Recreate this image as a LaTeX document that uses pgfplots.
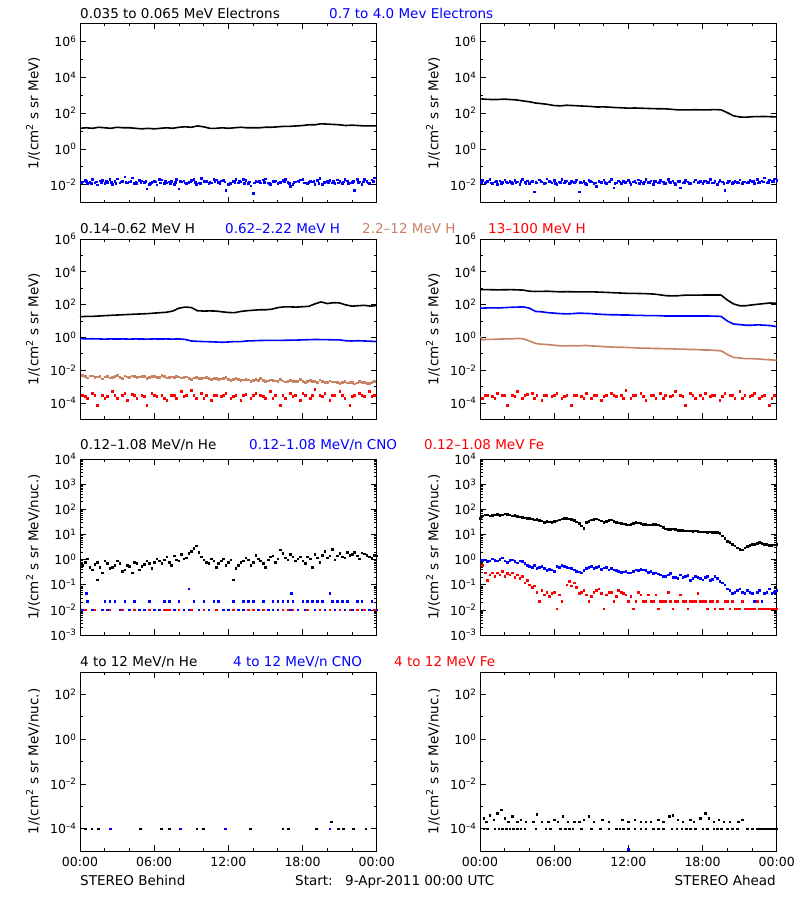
\documentclass[border=0pt]{standalone}
\usepackage{pgfplots}
\pgfplotsset{compat=1.18}
\usepackage{fontspec}
\setmainfont{DejaVu Sans}
\definecolor{iblue}{RGB}{0,0,255}
\definecolor{ibrown}{RGB}{200,130,100}
\definecolor{ired}{RGB}{255,0,0}
\newcommand{\titlefont}{\fontsize{13.5}{16}\selectfont}
\newcommand{\tickfont}{\fontsize{12.5}{15}\selectfont}
\newcommand{\Ts}[1]{10\textsuperscript{#1}}
\pgfplotsset{
  every axis/.append style={scale only axis, width=296.7pt, xmin=0, xmax=24,
    xtick={0,6,12,18,24}, minor xtick={2,4,8,10,14,16,20,22},
    tick align=inside, major tick length=6pt, minor tick length=3pt,
    axis line style={line width=0.7pt}, every tick/.style={black, line width=0.7pt},
    ticklabel style={font=\tickfont}, label style={font=\titlefont},
    ylabel style={at={(axis description cs:-0.158,0.5)}, anchor=center},
    anchor=south west},
  mydots/.style={only marks, mark=square*, mark size=0.8pt},
  myln/.style={no marks, line width=1.6pt, sharp plot},
}
\begin{document}
\begin{tikzpicture}
\path[fill=white] (0pt,0pt) rectangle (800pt,900pt);
\useasboundingbox (0pt,0pt) rectangle (800pt,900pt);

% ---------------- Row 1 ----------------
\begin{axis}[ymode=log, xticklabel=\empty, at={(80pt,697.3pt)}, height=179.4pt, ymin=1e-3, ymax=1e7,
  ytick={1e-2,1e0,1e2,1e4,1e6}, yticklabels={\Ts{–2},\Ts{0},\Ts{2},\Ts{4},\Ts{6}},
  minor ytick={1e-1,1e1,1e3,1e5},
  ylabel={1/(cm\textsuperscript{2} s sr MeV)}]
\addplot[myln, black] coordinates {(0,14)(0.5,15)(1,14)(1.5,16)(2,15)(2.5,14)(3,16)(3.5,15)(4,15)(4.5,14)(5,13)(5.5,14)(6,13)(6.5,14)(7,15)(7.5,14)(8,16)(8.5,17)(9,16)(9.5,19)(10,17)(10.5,14)(11,14)(11.5,15)(12,14)(12.5,15)(13,16)(13.5,15)(14,15)(14.5,15)(15,16)(15.5,16)(16,17)(16.5,18)(17,18)(17.5,19)(18,20)(18.5,22)(19,22)(19.5,25)(20,24)(20.5,23)(21,22)(21.5,20)(22,21)(22.5,20)(23,19)(23.5,19)(24,19)};
\addplot[mydots, iblue] coordinates {(0.2,0.015)(0.6,0.012)(1.0,0.02)(1.4,0.01)(1.8,0.018)(2.2,0.014)(2.6,0.011)(3.0,0.022)(3.4,0.016)(3.8,0.013)(4.2,0.025)(4.6,0.012)(5.0,0.017)(5.4,0.006)(5.8,0.014)(6.2,0.01)(6.6,0.019)(7.0,0.013)(7.4,0.016)(7.8,0.021)(8.2,0.015)(8.6,0.012)(9.0,0.018)(9.4,0.011)(9.8,0.024)(10.2,0.016)(10.6,0.013)(11.0,0.019)(11.4,0.017)(11.8,0.005)(12.2,0.012)(12.6,0.02)(13.0,0.015)(13.4,0.018)(13.8,0.009)(14.2,0.016)(14.6,0.013)(15.0,0.022)(15.4,0.011)(15.8,0.017)(16.2,0.014)(16.6,0.02)(17.0,0.008)(17.4,0.015)(17.8,0.019)(18.2,0.013)(18.6,0.016)(19.0,0.011)(19.4,0.023)(19.8,0.014)(20.2,0.018)(20.6,0.012)(21.0,0.016)(21.4,0.021)(21.8,0.013)(22.2,0.005)(22.6,0.015)(23.0,0.02)(23.4,0.012)(23.8,0.025)
(0.4,0.018)(0.8,0.014)(1.2,0.013)(1.6,0.017)(2.0,0.012)(2.4,0.02)(2.8,0.016)(3.2,0.013)(3.6,0.028)(4.0,0.015)(4.4,0.012)(4.8,0.018)(5.2,0.014)(5.6,0.011)(6.0,0.016)(6.4,0.02)(6.8,0.012)(7.2,0.015)(7.6,0.011)(8.0,0.006)(8.4,0.017)(8.8,0.014)(9.2,0.02)(9.6,0.013)(10.0,0.016)(10.4,0.012)(10.8,0.021)(11.2,0.014)(11.6,0.018)(12.0,0.011)(12.4,0.016)(12.8,0.013)(13.2,0.02)(13.6,0.012)(14.0,0.0035)(14.4,0.015)(14.8,0.019)(15.2,0.013)(15.6,0.016)(16.0,0.012)(16.4,0.018)(16.8,0.014)(17.2,0.011)(17.6,0.017)(18.0,0.021)(18.4,0.012)(18.8,0.015)(19.2,0.018)(19.6,0.011)(20.0,0.016)(20.4,0.013)(20.8,0.019)(21.2,0.012)(21.6,0.017)(22.0,0.014)(22.4,0.02)(22.8,0.011)(23.2,0.016)(23.6,0.019)
(0.1,0.013)(0.5,0.016)(0.9,0.012)(1.3,0.015)(1.7,0.013)(2.1,0.016)(2.5,0.014)(2.9,0.012)(3.3,0.015)(3.7,0.014)(4.1,0.016)(4.5,0.014)(4.9,0.013)(5.3,0.016)(5.7,0.012)(6.1,0.015)(6.5,0.013)(6.9,0.016)(7.3,0.012)(7.7,0.014)(8.1,0.016)(8.5,0.013)(8.9,0.015)(9.3,0.014)(9.7,0.012)(10.1,0.015)(10.5,0.014)(10.9,0.016)(11.3,0.012)(11.7,0.015)(12.1,0.013)(12.5,0.014)(12.9,0.016)(13.3,0.012)(13.7,0.015)(14.1,0.013)(14.5,0.016)(14.9,0.014)(15.3,0.012)(15.7,0.015)(16.1,0.013)(16.5,0.016)(16.9,0.012)(17.3,0.014)(17.7,0.015)(18.1,0.013)(18.5,0.014)(18.9,0.016)(19.3,0.012)(19.7,0.015)(20.1,0.014)(20.5,0.016)(20.9,0.013)(21.3,0.015)(21.7,0.012)(22.1,0.016)(22.5,0.014)(22.9,0.015)(23.3,0.013)(23.7,0.016)};
\end{axis}

\begin{axis}[ymode=log, xticklabel=\empty, at={(480pt,697.3pt)}, height=179.4pt, ymin=1e-3, ymax=1e7,
  ytick={1e-2,1e0,1e2,1e4,1e6}, yticklabels={\Ts{–2},\Ts{0},\Ts{2},\Ts{4},\Ts{6}},
  minor ytick={1e-1,1e1,1e3,1e5},
  ylabel={1/(cm\textsuperscript{2} s sr MeV)}]
\addplot[myln, black] coordinates {(0,620)(0.5,580)(1,560)(1.5,570)(2,590)(2.5,560)(3,530)(3.5,470)(4,420)(4.5,360)(5,330)(5.5,300)(6,260)(6.5,250)(7,270)(7.5,260)(8,250)(8.5,240)(9,230)(9.5,215)(10,220)(10.5,210)(11,200)(11.5,195)(12,185)(12.5,190)(13,185)(13.5,180)(14,175)(14.5,172)(15,170)(15.5,160)(16,150)(16.5,148)(17,150)(17.5,152)(18,148)(18.5,150)(19,155)(19.5,150)(20,105)(20.5,70)(21,60)(21.5,58)(22,62)(22.5,63)(23,64)(23.5,62)(24,60)};
\addplot[mydots, iblue] coordinates {(0.2,0.018)(0.4,0.013)(0.6,0.016)(0.8,0.02)(1.0,0.012)(1.2,0.015)(1.4,0.011)(1.6,0.017)(1.8,0.014)(2.0,0.019)(2.2,0.013)(2.4,0.016)(2.6,0.012)(2.8,0.018)(3.0,0.015)(3.2,0.011)(3.4,0.021)(3.6,0.014)(3.8,0.017)(4.0,0.012)(4.2,0.016)(4.4,0.004)(4.6,0.013)(4.8,0.019)(5.0,0.015)(5.2,0.012)(5.4,0.022)(5.6,0.016)(5.8,0.013)(6.0,0.018)(6.2,0.011)(6.4,0.015)(6.6,0.02)(6.8,0.013)(7.0,0.017)(7.2,0.012)(7.4,0.016)(7.6,0.014)(7.8,0.019)(8.0,0.004)(8.2,0.013)(8.4,0.016)(8.6,0.011)(8.8,0.018)(9.0,0.015)(9.2,0.012)(9.4,0.008)(9.6,0.016)(9.8,0.014)(10.0,0.019)(10.2,0.012)(10.4,0.015)(10.6,0.02)(10.8,0.007)(11.0,0.013)(11.2,0.017)(11.4,0.012)(11.6,0.016)(11.8,0.014)(12.0,0.018)(12.2,0.011)(12.4,0.015)(12.6,0.013)(12.8,0.019)(13.0,0.016)(13.2,0.012)(13.4,0.021)(13.6,0.014)(13.8,0.017)(14.0,0.011)(14.2,0.016)(14.4,0.013)(14.6,0.018)(14.8,0.015)(15.0,0.012)(15.2,0.02)(15.4,0.014)(15.6,0.017)(15.8,0.011)(16.0,0.016)(16.2,0.007)(16.4,0.013)(16.6,0.018)(16.8,0.015)(17.0,0.012)(17.4,0.019)(17.6,0.014)(17.8,0.016)(18.0,0.012)(18.2,0.017)(18.4,0.014)(18.6,0.02)(18.8,0.013)(19.0,0.016)(19.2,0.011)(19.4,0.018)(19.6,0.015)(19.8,0.005)(20.0,0.013)(20.2,0.017)(20.4,0.012)(20.6,0.016)(20.8,0.014)(21.0,0.019)(21.2,0.012)(21.4,0.015)(21.6,0.013)(21.8,0.018)(22.0,0.016)(22.2,0.012)(22.4,0.021)(22.6,0.014)(22.8,0.017)(23.0,0.025)(23.2,0.013)(23.4,0.019)(23.6,0.016)(23.8,0.022)(24.0,0.018)
(0.1,0.014)(0.5,0.015)(0.9,0.013)(1.3,0.016)(1.7,0.012)(2.1,0.015)(2.5,0.014)(2.9,0.013)(3.3,0.016)(3.7,0.012)(4.1,0.015)(4.5,0.014)(4.9,0.016)(5.3,0.013)(5.7,0.015)(6.1,0.012)(6.5,0.014)(6.9,0.016)(7.3,0.013)(7.7,0.015)(8.1,0.014)(8.5,0.012)(8.9,0.016)(9.3,0.013)(9.7,0.015)(10.1,0.014)(10.5,0.016)(10.9,0.012)(11.3,0.015)(11.7,0.013)(12.1,0.014)(12.5,0.016)(12.9,0.012)(13.3,0.015)(13.7,0.013)(14.1,0.016)(14.5,0.014)(14.9,0.012)(15.3,0.015)(15.7,0.013)(16.1,0.016)(16.5,0.014)(16.9,0.012)(17.3,0.015)(17.7,0.013)(18.1,0.016)(18.5,0.014)(18.9,0.013)(19.3,0.015)(19.7,0.012)(20.1,0.016)(20.5,0.014)(20.9,0.013)(21.3,0.015)(21.7,0.014)(22.1,0.016)(22.5,0.013)(22.9,0.015)(23.3,0.014)(23.7,0.016)};
\end{axis}

% ---------------- Row 2 ----------------
\begin{axis}[ymode=log, xticklabel=\empty, at={(80pt,480.7pt)}, height=180.3pt, ymin=1e-5, ymax=1e6,
  ytick={1e-4,1e-2,1e0,1e2,1e4,1e6}, yticklabels={\Ts{–4},\Ts{–2},\Ts{0},\Ts{2},\Ts{4},\Ts{6}},
  minor ytick={1e-5,1e-3,1e-1,1e1,1e3,1e5},
  ylabel={1/(cm\textsuperscript{2} s sr MeV)}]
\addplot[myln, black] coordinates {(0,18)(0.5,19)(1,19)(1.5,20)(2,21)(2.5,22)(3,23)(3.5,24)(4,25)(4.5,26)(5,27)(5.5,28)(6,30)(6.5,32)(7,34)(7.5,40)(8,60)(8.5,70)(9,66)(9.5,42)(10,40)(10.5,41)(11,40)(11.5,36)(12,33)(12.5,32)(13,38)(13.5,42)(14,45)(14.5,48)(15,48)(15.5,52)(16,65)(16.5,72)(17,72)(17.5,70)(18,74)(18.5,78)(19,110)(19.5,145)(20,115)(20.5,130)(21,125)(21.5,95)(22,80)(22.5,85)(23,90)(23.5,80)(24,88)};
\addplot[myln, iblue] coordinates {(0,0.85)(0.5,0.8)(1,0.82)(1.5,0.8)(2,0.78)(2.5,0.8)(3,0.79)(3.5,0.8)(4,0.78)(4.5,0.8)(5,0.79)(5.5,0.78)(6,0.8)(6.5,0.79)(7,0.8)(7.5,0.78)(8,0.8)(8.5,0.75)(9,0.6)(9.5,0.57)(10,0.55)(10.5,0.54)(11,0.52)(11.5,0.5)(12,0.52)(12.5,0.55)(13,0.55)(13.5,0.6)(14,0.62)(14.5,0.64)(15,0.65)(15.5,0.66)(16,0.65)(16.5,0.66)(17,0.67)(17.5,0.68)(18,0.7)(18.5,0.72)(19,0.74)(19.5,0.73)(20,0.72)(20.5,0.7)(21,0.7)(21.5,0.62)(22,0.6)(22.5,0.62)(23,0.6)(23.5,0.58)(24,0.55)};
\addplot[mydots, ibrown] coordinates {(0.2,0.005)(0.6,0.0035)(1.0,0.0045)(1.4,0.004)(1.8,0.003)(2.2,0.0042)(2.6,0.0038)(3.0,0.0048)(3.4,0.0033)(3.8,0.004)(4.2,0.0045)(4.6,0.0036)(5.0,0.0041)(5.4,0.0032)(5.8,0.0044)(6.2,0.0038)(6.6,0.005)(7.0,0.0035)(7.4,0.004)(7.8,0.0042)(8.2,0.0034)(8.6,0.0039)(9.0,0.0028)(9.4,0.0036)(9.8,0.0031)(10.2,0.0038)(10.6,0.0027)(11.0,0.0033)(11.4,0.003)(11.8,0.0036)(12.2,0.0025)(12.6,0.0031)(13.0,0.0024)(13.4,0.0029)(13.8,0.0022)(14.2,0.0027)(14.6,0.0032)(15.0,0.0021)(15.4,0.0026)(15.8,0.0023)(16.2,0.0029)(16.6,0.002)(17.0,0.0025)(17.4,0.0022)(17.8,0.0027)(18.2,0.0019)(18.6,0.0024)(19.0,0.0021)(19.4,0.0026)(19.8,0.0018)(20.2,0.0023)(20.6,0.002)(21.0,0.0016)(21.4,0.0022)(21.8,0.0019)(22.2,0.0015)(22.6,0.0021)(23.0,0.0018)(23.4,0.0016)(23.8,0.0022)
(0.4,0.0042)(0.8,0.0046)(1.2,0.0037)(1.6,0.0044)(2.0,0.0039)(2.4,0.0035)(2.8,0.0043)(3.2,0.0038)(3.6,0.0045)(4.0,0.0036)(4.4,0.0041)(4.8,0.0039)(5.2,0.0043)(5.6,0.0037)(6.0,0.0042)(6.4,0.0036)(6.8,0.0041)(7.2,0.0038)(7.6,0.0036)(8.0,0.0039)(8.4,0.0037)(8.8,0.0033)(9.2,0.0034)(9.6,0.0032)(10.0,0.0034)(10.4,0.0031)(10.8,0.0032)(11.2,0.0029)(11.6,0.0031)(12.0,0.0028)(12.4,0.0027)(12.8,0.0028)(13.2,0.0026)(13.6,0.0026)(14.0,0.0025)(14.4,0.0024)(14.8,0.0025)(15.2,0.0023)(15.6,0.0024)(16.0,0.0022)(16.4,0.0023)(16.8,0.0022)(17.2,0.0021)(17.6,0.0022)(18.0,0.0021)(18.4,0.0021)(18.8,0.0022)(19.2,0.0019)(19.6,0.0021)(20.0,0.0019)(20.4,0.002)(20.8,0.0018)(21.2,0.0019)(21.6,0.0017)(22.0,0.0018)(22.4,0.0017)(22.8,0.0019)(23.2,0.0016)(23.6,0.0018)};
\addplot[mydots, ired] coordinates {(0.2,3e-4)(0.6,2e-4)(1.0,4e-4)(1.4,7e-5)(1.8,3e-4)(2.2,2.5e-4)(2.6,5e-4)(3.0,2e-4)(3.4,3e-4)(3.8,1.5e-4)(4.2,3.5e-4)(4.6,2e-4)(5.0,3e-4)(5.4,7e-5)(5.8,4e-4)(6.2,2.5e-4)(6.6,3e-4)(7.0,1.5e-4)(7.4,3e-4)(7.8,2e-4)(8.2,5e-4)(8.6,3e-4)(9.0,6e-4)(9.4,2e-4)(9.8,4e-4)(10.2,3e-4)(10.6,1.5e-4)(11.0,3e-4)(11.4,2.5e-4)(11.8,4e-4)(12.2,2e-4)(12.6,3e-4)(13.0,1.5e-4)(13.4,3.5e-4)(13.8,2e-4)(14.2,4e-4)(14.6,3e-4)(15.0,2e-4)(15.4,5e-4)(15.8,3e-4)(16.2,7e-5)(16.6,2e-4)(17.0,4e-4)(17.4,3e-4)(17.8,1.5e-4)(18.2,3e-4)(18.6,2e-4)(19.0,7e-4)(19.4,3e-4)(19.8,4e-4)(20.2,1.5e-4)(20.6,3e-4)(21.0,5e-4)(21.4,2e-4)(21.8,7e-5)(22.2,3e-4)(22.6,4e-4)(23.0,2.5e-4)(23.4,5e-4)(23.8,3e-4)
(0.4,2.5e-4)(1.2,3e-4)(2.0,2e-4)(2.8,3e-4)(3.6,4e-4)(4.4,3e-4)(5.2,2.5e-4)(6.0,3e-4)(6.8,2e-4)(7.6,3e-4)(8.4,2.5e-4)(9.2,3e-4)(10.0,2e-4)(10.8,3e-4)(11.6,3e-4)(12.4,2.5e-4)(13.2,3e-4)(14.0,3e-4)(14.8,2.5e-4)(15.6,2e-4)(16.4,3e-4)(17.2,2.5e-4)(18.0,4e-4)(18.8,3e-4)(19.6,2.5e-4)(20.4,3e-4)(21.2,3e-4)(22.0,2.5e-4)(22.8,3e-4)(23.6,2.5e-4)};
\end{axis}

\begin{axis}[ymode=log, xticklabel=\empty, at={(480pt,480.7pt)}, height=180.3pt, ymin=1e-5, ymax=1e6,
  ytick={1e-4,1e-2,1e0,1e2,1e4,1e6}, yticklabels={\Ts{–4},\Ts{–2},\Ts{0},\Ts{2},\Ts{4},\Ts{6}},
  minor ytick={1e-5,1e-3,1e-1,1e1,1e3,1e5},
  ylabel={1/(cm\textsuperscript{2} s sr MeV)}]
\addplot[myln, black] coordinates {(0,800)(0.5,820)(1,800)(1.5,790)(2,800)(2.5,810)(3,790)(3.5,760)(4,650)(4.5,630)(5,640)(5.5,650)(6,620)(6.5,600)(7,610)(7.5,600)(8,590)(8.5,600)(9,600)(9.5,580)(10,560)(10.5,540)(11,520)(11.5,500)(12,480)(12.5,480)(13,470)(13.5,460)(14,440)(14.5,400)(15,350)(15.5,340)(16,345)(16.5,370)(17,380)(17.5,380)(18,380)(18.5,385)(19,385)(19.5,380)(20,190)(20.5,110)(21,85)(21.5,85)(22,95)(22.5,105)(23,115)(23.5,125)(24,120)};
\addplot[myln, iblue] coordinates {(0,60)(0.5,62)(1,63)(1.5,62)(2,65)(2.5,68)(3,70)(3.5,72)(4,60)(4.5,38)(5,36)(5.5,32)(6,30)(6.5,28)(7,27)(7.5,28)(8,30)(8.5,29)(9,28)(9.5,26)(10,25)(10.5,24)(11,24)(11.5,23)(12,23)(12.5,22)(13,22)(13.5,21)(14,21)(14.5,21)(15,20)(15.5,20)(16,20)(16.5,20)(17,20)(17.5,20)(18,20)(18.5,20)(19,19.5)(19.5,19)(20,10)(20.5,6.5)(21,6)(21.5,5.5)(22,5.5)(22.5,5.8)(23,5.5)(23.5,5.2)(24,4.5)};
\addplot[myln, ibrown] coordinates {(0,1.2)(0.2,0.7)(0.5,0.75)(1,0.75)(1.5,0.78)(2,0.8)(2.5,0.8)(3,0.85)(3.5,0.82)(4,0.6)(4.5,0.42)(5,0.38)(5.5,0.36)(6,0.33)(6.5,0.3)(7,0.3)(7.5,0.31)(8,0.3)(8.5,0.32)(9,0.3)(9.5,0.29)(10,0.27)(10.5,0.26)(11,0.25)(11.5,0.25)(12,0.24)(12.5,0.23)(13,0.22)(13.5,0.22)(14,0.21)(14.5,0.21)(15,0.2)(15.5,0.2)(16,0.19)(16.5,0.19)(17,0.18)(17.5,0.18)(18,0.17)(18.5,0.17)(19,0.16)(19.5,0.15)(20,0.09)(20.5,0.06)(21,0.055)(21.5,0.05)(22,0.05)(22.5,0.048)(23,0.045)(23.5,0.042)(24,0.04)};
\addplot[mydots, ired] coordinates {(0.2,2e-4)(0.6,3e-4)(1.0,2.5e-4)(1.4,4e-4)(1.8,3e-4)(2.2,7e-5)(2.6,3e-4)(3.0,5e-4)(3.4,2e-4)(3.8,3.5e-4)(4.2,4e-4)(4.6,3e-4)(5.0,1.5e-4)(5.4,3e-4)(5.8,2.5e-4)(6.2,4e-4)(6.6,2e-4)(7.0,3e-4)(7.4,7e-5)(7.8,3e-4)(8.2,2.5e-4)(8.6,4e-4)(9.0,2e-4)(9.4,3e-4)(9.8,1.5e-4)(10.2,3e-4)(10.6,4e-4)(11.0,2.5e-4)(11.4,3e-4)(11.8,6e-4)(12.2,2e-4)(12.6,3e-4)(13.0,4e-4)(13.4,1.5e-4)(13.8,3e-4)(14.2,2e-4)(14.6,4e-4)(15.0,3e-4)(15.4,2.5e-4)(15.8,5e-4)(16.2,3e-4)(16.6,7e-5)(17.0,4e-4)(17.4,2e-4)(17.8,3e-4)(18.2,4e-4)(18.6,2.5e-4)(19.0,3e-4)(19.4,1.5e-4)(19.8,4e-4)(20.2,3e-4)(20.6,2e-4)(21.0,5e-4)(21.4,3e-4)(21.8,2.5e-4)(22.2,4e-4)(22.6,2e-4)(23.0,3e-4)(23.4,7e-5)(23.8,3e-4)
(0.4,3e-4)(1.2,2e-4)(2.0,3e-4)(2.8,2.5e-4)(3.6,3e-4)(4.4,2e-4)(5.2,3e-4)(6.0,3e-4)(6.8,2.5e-4)(7.6,3e-4)(8.4,2e-4)(9.2,3e-4)(10.0,2.5e-4)(10.8,3e-4)(11.6,2e-4)(12.4,3e-4)(13.2,2.5e-4)(14.0,3e-4)(14.8,2e-4)(15.6,3e-4)(16.4,2.5e-4)(17.2,3e-4)(18.0,2e-4)(18.8,3e-4)(19.6,2.5e-4)(20.4,3e-4)(21.2,2e-4)(22.0,3e-4)(22.8,2.5e-4)(23.6,2e-4)};
\end{axis}

% ---------------- Row 3 ----------------
\begin{axis}[ymode=log, xticklabel=\empty, at={(80pt,265pt)}, height=176pt, ymin=1e-3, ymax=1e4,
  ytick={1e-3,1e-2,1e-1,1e0,1e1,1e2,1e3,1e4},
  yticklabels={\Ts{–3},\Ts{–2},\Ts{–1},\Ts{0},\Ts{1},\Ts{2},\Ts{3},\Ts{4}},
  ylabel={1/(cm\textsuperscript{2} s sr MeV/nuc.)}]
\addplot[mydots, black] coordinates {(0.2,0.6)(0.6,1.1)(1.0,0.4)(1.4,0.8)(1.8,0.3)(2.2,0.7)(2.6,0.5)(3.0,0.9)(3.4,0.35)(3.8,0.6)(4.2,0.3)(4.6,0.7)(5.0,0.55)(5.4,0.9)(5.8,0.45)(6.2,1.1)(6.6,0.7)(7.0,1.3)(7.4,0.6)(7.8,1.0)(8.2,1.6)(8.6,1.2)(9.0,2.2)(9.4,3.5)(9.8,1.3)(10.2,0.8)(10.6,1.1)(11.0,0.5)(11.4,0.9)(11.8,0.6)(12.2,1.0)(12.6,0.45)(13.0,0.8)(13.4,1.2)(13.8,0.6)(14.2,1.5)(14.6,0.9)(15.0,0.5)(15.4,1.3)(15.8,0.8)(16.2,2.5)(16.6,1.2)(17.0,1.6)(17.4,0.9)(17.8,1.3)(18.2,0.7)(18.6,1.1)(19.0,1.6)(19.4,0.8)(19.8,2.2)(20.2,1.4)(20.6,1.0)(21.0,1.8)(21.4,1.2)(21.8,1.5)(22.2,2.0)(22.6,1.1)(23.0,1.7)(23.4,1.3)(23.8,1.5)
(0.4,0.8)(0.8,0.5)(1.2,0.65)(1.4,0.16)(1.6,0.5)(2.0,0.9)(2.4,0.45)(2.8,0.6)(3.2,0.7)(3.6,0.4)(4.0,0.55)(4.4,0.8)(4.8,0.4)(5.2,0.65)(5.6,0.7)(6.0,0.8)(6.4,0.9)(6.8,1.0)(7.2,0.8)(7.6,1.4)(8.0,0.9)(8.4,1.1)(8.8,1.8)(9.2,2.8)(9.6,2.0)(10.0,1.0)(10.4,0.7)(10.8,0.9)(11.2,0.7)(11.6,1.1)(12.0,0.8)(12.4,0.16)(12.8,0.6)(13.2,0.9)(13.6,1.0)(14.0,0.8)(14.4,1.1)(14.8,0.7)(15.2,1.0)(15.6,1.4)(16.0,1.1)(16.4,1.8)(16.8,1.0)(17.2,1.3)(17.6,1.1)(18.0,0.9)(18.4,1.3)(18.8,0.5)(19.2,1.2)(19.6,1.5)(20.0,1.2)(20.4,2.6)(20.8,1.4)(21.2,1.3)(21.6,2.0)(22.0,1.6)(22.4,1.4)(22.8,1.9)(23.2,1.5)(23.6,1.2)(24.0,1.4)};
\addplot[mydots, iblue] coordinates {(0.6,0.022)(2.0,0.022)(2.4,0.022)(2.8,0.022)(3.6,0.022)(4.4,0.022)(5.6,0.022)(6.8,0.022)(7.2,0.022)(8.0,0.022)(9.2,0.022)(10.0,0.022)(10.8,0.022)(11.2,0.022)(12.4,0.022)(13.2,0.022)(13.6,0.022)(14.0,0.022)(14.8,0.022)(15.6,0.022)(16.0,0.022)(16.4,0.022)(16.8,0.022)(17.2,0.022)(18.0,0.022)(18.4,0.022)(18.8,0.022)(19.2,0.022)(19.6,0.022)(20.4,0.022)(20.8,0.022)(21.2,0.022)(21.6,0.022)(22.4,0.022)(22.8,0.022)(23.6,0.022)
(0.5,0.045)(17.1,0.045)(20.2,0.045)(8.8,0.07)
(0.2,0.01)(1.0,0.01)(1.8,0.01)(2.2,0.01)(3.2,0.01)(4.0,0.01)(4.8,0.01)(5.2,0.01)(6.0,0.01)(6.4,0.01)(7.6,0.01)(8.4,0.01)(8.8,0.01)(9.6,0.01)(10.4,0.01)(11.6,0.01)(12.0,0.01)(12.8,0.01)(13.2,0.01)(14.4,0.01)(15.2,0.01)(15.6,0.01)(16.0,0.01)(17.0,0.01)(17.6,0.01)(18.2,0.01)(19.0,0.01)(19.8,0.01)(20.6,0.01)(21.4,0.01)(22.0,0.01)(22.8,0.01)(23.4,0.01)(24.0,0.01)};
\addplot[mydots, ired] coordinates {(0.4,0.01)(1.2,0.01)(2.4,0.01)(3.4,0.01)(4.4,0.01)(5.6,0.01)(6.8,0.01)(7.0,0.01)(7.2,0.01)(8.0,0.01)(9.0,0.01)(10.0,0.01)(11.0,0.01)(12.4,0.01)(13.6,0.01)(14.0,0.01)(14.8,0.01)(16.4,0.01)(16.8,0.01)(17.2,0.01)(18.4,0.01)(19.4,0.01)(20.2,0.01)(21.0,0.01)(21.8,0.01)(22.4,0.01)(23.0,0.01)(23.8,0.01)};
\end{axis}

\begin{axis}[ymode=log, xticklabel=\empty, at={(480pt,265pt)}, height=176pt, ymin=1e-3, ymax=1e4,
  ytick={1e-3,1e-2,1e-1,1e0,1e1,1e2,1e3,1e4},
  yticklabels={\Ts{–3},\Ts{–2},\Ts{–1},\Ts{0},\Ts{1},\Ts{2},\Ts{3},\Ts{4}},
  ylabel={1/(cm\textsuperscript{2} s sr MeV/nuc.)}]
\addplot[mydots, black] coordinates {(0.2,55)(0.6,62)(1.0,58)(1.4,65)(1.8,60)(2.2,63)(2.6,55)(3.0,52)(3.4,48)(3.8,45)(4.2,42)(4.6,40)(5.0,35)(5.4,33)(5.8,30)(6.2,35)(6.6,42)(7.0,45)(7.4,40)(7.8,32)(8.2,22)(8.6,30)(9.0,38)(9.4,42)(9.8,35)(10.2,33)(10.6,38)(11.0,30)(11.4,28)(11.8,26)(12.2,25)(12.6,30)(13.0,28)(13.4,25)(13.8,24)(14.2,26)(14.6,22)(15.0,17)(15.4,16)(15.8,16)(16.2,15)(16.6,14)(17.0,14)(17.4,14)(17.8,13)(18.2,13)(18.6,13)(19.0,12.5)(19.4,11)(19.8,7)(20.2,5)(20.6,3.5)(21.0,2.6)(21.4,3)(21.8,3.8)(22.2,4.2)(22.6,4.8)(23.0,4.2)(23.4,3.8)(23.8,3.9)
(0.0,45)(0.4,60)(0.8,55)(1.2,62)(1.6,58)(2.0,66)(2.4,60)(2.8,58)(3.2,50)(3.6,46)(4.0,44)(4.4,38)(4.8,37)(5.2,31)(5.6,32)(6.0,33)(6.4,38)(6.8,44)(7.2,42)(7.6,36)(8.0,28)(8.4,18)(8.8,34)(9.2,40)(9.6,38)(10.0,30)(10.4,36)(10.8,34)(11.2,29)(11.6,27)(12.0,24)(12.4,28)(12.8,29)(13.2,26)(13.6,24)(14.0,25)(14.4,24)(14.8,19)(15.2,16)(15.6,17)(16.0,15)(16.4,14.5)(16.8,14)(17.2,13.5)(17.6,13.5)(18.0,13)(18.4,12.5)(18.8,12.5)(19.2,12)(19.6,9)(20.0,5.5)(20.4,4)(20.8,3)(21.2,2.5)(21.6,3.4)(22.0,4)(22.4,4.6)(22.8,4.5)(23.2,4)(23.6,3.7)(24.0,4.1)};
\addplot[mydots, iblue] coordinates {(0.2,0.95)(0.6,0.85)(1.0,1.1)(1.4,0.9)(1.8,1.2)(2.2,0.8)(2.6,1.0)(3.0,0.75)(3.4,0.85)(3.8,0.6)(4.2,0.5)(4.6,0.45)(5.0,0.55)(5.4,0.38)(5.8,0.4)(6.2,0.55)(6.6,0.6)(7.0,0.5)(7.4,0.45)(7.8,0.35)(8.2,0.3)(8.6,0.45)(9.0,0.55)(9.4,0.5)(9.8,0.42)(10.2,0.5)(10.6,0.45)(11.0,0.38)(11.4,0.32)(11.8,0.35)(12.2,0.3)(12.6,0.4)(13.0,0.42)(13.4,0.38)(13.8,0.35)(14.2,0.3)(14.6,0.25)(15.0,0.22)(15.4,0.28)(15.8,0.2)(16.2,0.25)(16.6,0.22)(17.0,0.15)(17.4,0.22)(17.8,0.18)(18.2,0.2)(18.6,0.15)(19.0,0.22)(19.4,0.14)(19.8,0.1)(20.2,0.06)(20.6,0.05)(21.0,0.07)(21.4,0.045)(21.8,0.05)(22.2,0.022)(22.6,0.06)(23.0,0.045)(23.4,0.07)(23.8,0.05)
(0.4,1.0)(0.8,0.9)(1.2,0.95)(1.6,1.05)(2.0,0.9)(2.4,0.95)(2.8,0.85)(3.2,0.9)(3.6,0.7)(4.0,0.55)(4.4,0.6)(4.8,0.5)(5.2,0.45)(5.6,0.42)(6.0,0.35)(6.4,0.5)(6.8,0.55)(7.2,0.48)(7.6,0.4)(8.0,0.33)(8.4,0.38)(8.8,0.5)(9.2,0.45)(9.6,0.55)(10.0,0.48)(10.4,0.4)(10.8,0.4)(11.2,0.35)(11.6,0.33)(12.0,0.3)(12.4,0.35)(12.8,0.38)(13.2,0.4)(13.6,0.32)(14.0,0.28)(14.4,0.27)(14.8,0.22)(15.2,0.25)(15.6,0.2)(16.0,0.18)(16.4,0.2)(16.8,0.24)(17.2,0.18)(17.6,0.2)(18.0,0.16)(18.4,0.22)(18.8,0.17)(19.2,0.18)(19.6,0.12)(20.0,0.07)(20.4,0.045)(20.8,0.06)(21.2,0.05)(21.6,0.06)(22.0,0.045)(22.4,0.05)(22.8,0.022)(23.2,0.05)(23.6,0.045)(24.0,0.06)};
\addplot[mydots, ired] coordinates {(0.2,0.6)(0.4,0.3)(0.6,0.15)(0.8,0.25)(1.0,0.3)(1.2,0.22)(1.4,0.3)(1.6,0.25)(1.8,0.35)(2.0,0.22)(2.2,0.28)(2.4,0.25)(2.6,0.3)(2.8,0.2)(3.0,0.25)(3.2,0.18)(3.4,0.22)(3.6,0.12)(3.8,0.15)(4.0,0.1)(4.2,0.08)(4.4,0.09)(4.6,0.05)(4.8,0.022)(5.0,0.06)(5.4,0.05)(5.8,0.045)(6.2,0.011)(6.6,0.022)(7.0,0.1)(7.2,0.14)(7.4,0.09)(7.6,0.12)(7.8,0.08)(8.0,0.045)(8.4,0.06)(8.8,0.022)(9.2,0.05)(9.6,0.07)(10.0,0.011)(10.4,0.05)(10.8,0.022)(11.2,0.06)(11.6,0.045)(12.0,0.022)(12.4,0.011)(12.8,0.05)(13.2,0.022)(13.6,0.04)(14.0,0.022)(14.4,0.011)(14.8,0.022)(15.2,0.05)(15.6,0.011)(16.0,0.022)(16.4,0.022)(16.8,0.011)(17.2,0.022)(17.6,0.045)(18.0,0.022)(18.4,0.011)(18.8,0.022)(19.2,0.022)(19.6,0.011)(20.0,0.022)(20.4,0.022)(20.8,0.011)(21.2,0.022)(21.6,0.011)(22.0,0.011)(22.4,0.022)(22.8,0.011)(23.2,0.011)(23.6,0.011)(24.0,0.011)
(5.2,0.04)(5.6,0.035)(6.0,0.05)(6.4,0.04)(8.2,0.05)(8.6,0.04)(9.0,0.035)(9.4,0.06)(9.8,0.045)(10.2,0.04)(10.6,0.05)(11.0,0.035)(11.4,0.05)(11.8,0.04)(12.2,0.035)(12.6,0.022)(13.0,0.04)(13.4,0.022)(13.8,0.022)(14.2,0.04)(14.6,0.022)(15.0,0.022)(15.4,0.022)(15.8,0.022)(16.2,0.04)(16.6,0.022)(17.0,0.022)(17.4,0.022)(17.8,0.022)(18.2,0.022)(18.6,0.022)(19.0,0.011)(19.4,0.011)(19.8,0.022)(20.2,0.011)(20.6,0.011)(21.0,0.011)(21.4,0.011)(21.8,0.011)(22.2,0.011)(22.6,0.011)(23.0,0.011)(23.4,0.011)(23.8,0.011)};
\end{axis}

% ---------------- Row 4 ----------------
\begin{axis}[ymode=log, at={(80pt,49pt)}, height=179pt, ymin=1e-5, ymax=1e3,
  ytick={1e-4,1e-2,1e0,1e2}, yticklabels={\Ts{–4},\Ts{–2},\Ts{0},\Ts{2}},
  minor ytick={1e-3,1e-1,1e1},
  xticklabels={00:00,06:00,12:00,18:00,00:00}, xticklabel style={yshift=-3pt},
  ylabel={1/(cm\textsuperscript{2} s sr MeV/nuc.)}]
\addplot[mydots, black] coordinates {(0.4,1e-4)(0.94,1e-4)(1.48,1e-4)(4.85,1e-4)(6.55,1e-4)(7.23,1e-4)(9.44,1e-4)(9.98,1e-4)(13.75,1e-4)(16.4,1e-4)(16.85,1e-4)(19.1,1e-4)(20.9,1e-4)(21.3,1e-4)(22.1,1e-4)(23.1,1e-4)(20.3,2e-4)};
\addplot[mydots, iblue] coordinates {(2.43,1e-4)(8.09,1e-4)(11.73,1e-4)(20.2,1e-4)};
\end{axis}

\begin{axis}[ymode=log, at={(480pt,49pt)}, height=179pt, ymin=1e-5, ymax=1e3,
  ytick={1e-4,1e-2,1e0,1e2}, yticklabels={\Ts{–4},\Ts{–2},\Ts{0},\Ts{2}},
  minor ytick={1e-3,1e-1,1e1},
  xticklabels={00:00,06:00,12:00,18:00,00:00}, xticklabel style={yshift=-3pt},
  ylabel={1/(cm\textsuperscript{2} s sr MeV/nuc.)}]
\addplot[mydots, black] coordinates {(0.3,1e-4)(0.6,1e-4)(1.2,1e-4)(1.5,1e-4)(1.8,1e-4)(2.1,1e-4)(2.4,1e-4)(2.7,1e-4)(3.0,1e-4)(3.3,1e-4)(3.6,1e-4)(4.5,1e-4)(5.3,1e-4)(5.7,1e-4)(6.5,1e-4)(6.9,1e-4)(7.2,1e-4)(7.5,1e-4)(8.2,1e-4)(9.0,1e-4)(9.7,1e-4)(10.4,1e-4)(11.0,1e-4)(11.3,1e-4)(11.6,1e-4)(12.0,1e-4)(12.5,1e-4)(13.0,1e-4)(13.4,1e-4)(14.0,1e-4)(14.4,1e-4)(14.8,1e-4)(15.5,1e-4)(15.9,1e-4)(16.3,1e-4)(16.7,1e-4)(17.0,1e-4)(17.4,1e-4)(18.0,1e-4)(18.4,1e-4)(18.9,1e-4)(19.2,1e-4)(19.5,1e-4)(20.0,1e-4)(20.4,1e-4)(20.8,1e-4)(21.6,1e-4)(22.0,1e-4)(22.4,1e-4)(22.6,1e-4)(22.8,1e-4)(23.0,1e-4)(23.2,1e-4)(23.4,1e-4)(23.6,1e-4)(23.8,1e-4)(24.0,1e-4)
(0.3,3e-4)(0.5,2e-4)(0.8,4e-4)(1.1,2.5e-4)(1.4,5e-4)(1.7,7e-4)(2.0,3e-4)(2.3,2e-4)(2.6,3.5e-4)(3.0,2e-4)(3.3,2.5e-4)(3.7,2e-4)(4.3,2e-4)(4.6,4.5e-4)(5.0,2e-4)(5.5,2e-4)(6.0,2.5e-4)(6.3,2e-4)(6.7,3.5e-4)(7.1,2e-4)(7.6,2e-4)(8.0,2e-4)(8.4,2.5e-4)(8.8,3.5e-4)(9.2,2e-4)(9.9,2.5e-4)(10.4,2e-4)(11.5,2.5e-4)(12.0,2e-4)(12.5,2.5e-4)(13.0,2e-4)(13.4,2e-4)(13.8,2e-4)(14.4,2.5e-4)(14.8,2e-4)(15.3,3.5e-4)(15.6,4e-4)(16.0,2.5e-4)(16.4,2e-4)(17.0,2.5e-4)(17.3,2e-4)(17.8,3e-4)(18.2,5e-4)(18.5,3e-4)(18.9,2e-4)(19.3,2.5e-4)(19.7,2e-4)(20.2,2e-4)(20.9,2e-4)(21.2,2.5e-4)};
\addplot[mydots, iblue] coordinates {(12.0,1.2e-5)};
\end{axis}

% ---------------- texts ----------------
\begin{scope}[every node/.style={anchor=base west, inner sep=0pt, font=\titlefont}]
\node at (80pt,881.7pt) {0.035 to 0.065 MeV Electrons};
\node[text=iblue] at (329pt,881.7pt) {0.7 to 4.0 Mev Electrons};
\node at (80pt,666.7pt) {0.14–0.62 MeV H};
\node[text=iblue] at (225pt,666.7pt) {0.62–2.22 MeV H};
\node[text=ibrown] at (362pt,666.7pt) {2.2–12 MeV H};
\node[text=ired] at (488pt,666.7pt) {13–100 MeV H};
\node at (80pt,450pt) {0.12–1.08 MeV/n He};
\node[text=iblue] at (249pt,450pt) {0.12–1.08 MeV/n CNO};
\node[text=ired] at (424pt,450pt) {0.12–1.08 MeV Fe};
\node at (80pt,233.3pt) {4 to 12 MeV/n He};
\node[text=iblue] at (233pt,233.3pt) {4 to 12 MeV/n CNO};
\node[text=ired] at (394pt,233.3pt) {4 to 12 MeV Fe};
\node at (80pt,14pt) {STEREO Behind};
\node at (295pt,14pt) {Start:};
\node at (345pt,14pt) {9-Apr-2011 00:00 UTC};
\node[anchor=base east] at (776pt,14pt) {STEREO Ahead};
\end{scope}
\end{tikzpicture}
\end{document}
